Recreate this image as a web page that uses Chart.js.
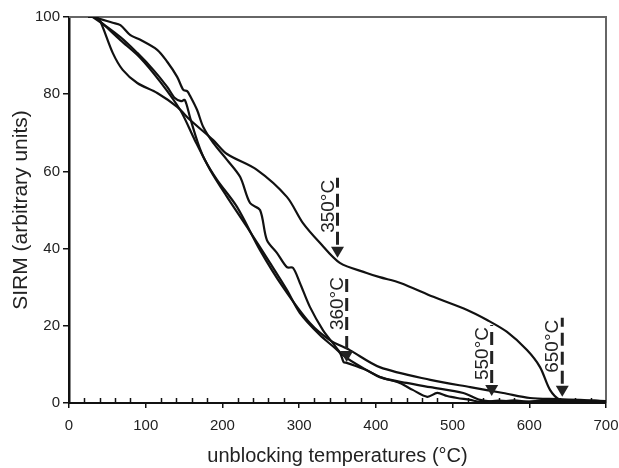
<!DOCTYPE html>
<html>
<head>
<meta charset="utf-8">
<script src="https://cdn.jsdelivr.net/npm/chart.js@4.4.1/dist/chart.umd.min.js"></script>
<style>
    html, body { margin: 0; padding: 0; background: #fff; }
    #wrap { width: 619px; height: 468px; }
</style>
</head>
<body>
<div id="wrap"><canvas id="chart" width="619" height="468"></canvas></div>
<script>
// curve A: the slow one, ends near 650 °C
const tempA = [25, 34, 40, 57, 70, 89, 115, 141, 158, 188, 206, 245, 284, 305, 327, 353, 388, 405, 432, 475, 519, 545, 571, 597, 614, 627, 640, 655, 670, 685, 700];
const sirmA = [100, 100, 99.2, 90.7, 86.3, 82.9, 80.3, 76.7, 73.3, 68.1, 64.5, 60.4, 53.4, 46.6, 41.5, 36.3, 33.7, 32.6, 31.1, 27.5, 24.1, 21.5, 18.4, 13.7, 9.3, 3.4, 0.8, 0.6, 0.5, 0.6, 0.3];

// curve B: has the bump near 150 °C
const tempB = [25, 31, 57, 67, 80, 93, 115, 128, 141, 149, 154, 158, 167, 175, 188, 206, 223, 236, 249, 258, 271, 284, 292, 301, 314, 331, 344, 357, 383, 409, 440, 471, 514, 536, 558, 580, 600, 620, 640, 660, 700];
const sirmB = [100, 100, 98.5, 97.9, 95.3, 94.1, 91.5, 88.4, 84.5, 81.1, 80.8, 79.5, 75.9, 71.5, 67.4, 63, 58.6, 51.8, 50, 42.2, 38.9, 35.2, 35, 31.1, 24.9, 18.9, 15.5, 12.4, 9.1, 6.5, 5.2, 4.1, 2.6, 0.8, 0.3, 0.7, 0.3, 0.8, 0.5, 0.4, 0.3];

// curve C
const tempC = [28, 31, 67, 89, 110, 128, 138, 146, 151, 158, 168, 177, 193, 219, 249, 279, 314, 340, 366, 405, 471, 523, 566, 601, 636, 666, 700];
const sirmC = [100, 100, 94.8, 90.7, 86.3, 81.9, 79, 78.2, 78.5, 73.8, 67.4, 63, 57.8, 50.8, 39.6, 30, 20.7, 16.3, 13.7, 9.3, 6, 4.1, 2.6, 1.3, 1, 0.8, 0.5];

// curve D: lowest one, dip at 360 °C
const tempD = [30, 34, 67, 93, 119, 145, 164, 184, 206, 232, 262, 284, 301, 327, 353, 358, 362, 388, 405, 431, 448, 467, 480, 493, 506, 523, 536, 560, 590, 620, 660, 700];
const sirmD = [100, 100, 94, 89.4, 83.2, 75.9, 68.1, 60.4, 53.4, 45.6, 36.3, 29.3, 23.3, 17.6, 13, 10.6, 10.4, 8.5, 6.7, 5.2, 3.4, 1.6, 2.6, 1.8, 1.3, 0.8, 0.3, 0.6, 0.3, 0.5, 0.3, 0.3];

// arrows with labels
const annoLabels = ['350°C', '360°C', '550°C', '650°C'];
const annoTemp = [350, 362, 551, 643];
const annoSirm = [37.6, 10.6, 1.8, 1.6];

const xTicks = [0, 100, 200, 300, 400, 500, 600, 700];
const yTicks = [0, 20, 40, 60, 80, 100];

const FONT = "'Liberation Sans', Arial, sans-serif";
const TXT = '#222';

const curves = [[tempA, sirmA], [tempB, sirmB], [tempC, sirmC], [tempD, sirmD]];

// label gap above each arrow tip (px)
const labelGap = [25, 32, 16, 24];

const framePlugin = {
    id: 'frame',
    beforeDatasetsDraw(chart) {
        const { ctx, chartArea: a } = chart;
        ctx.save();
        ctx.strokeStyle = '#666';
        ctx.lineWidth = 2;
        ctx.beginPath();
        ctx.moveTo(a.left, a.top);
        ctx.lineTo(a.right, a.top);
        ctx.lineTo(a.right, a.bottom);
        ctx.stroke();

        // minor ticks, pointing inward
        const xs = chart.scales.x;
        ctx.strokeStyle = '#111';
        ctx.lineWidth = 1.5;
        for (let v = 20; v < 700; v += 20) {
            if (v % 100 === 0) continue;
            const px = Math.round(xs.getPixelForValue(v)) + 0.5;
            ctx.beginPath();
            ctx.moveTo(px, a.bottom);
            ctx.lineTo(px, a.bottom - 5);
            ctx.stroke();
        }
        ctx.restore();
    }
};

const arrowPlugin = {
    id: 'arrows',
    afterDatasetsDraw(chart) {
        const { ctx } = chart;
        const xs = chart.scales.x, ys = chart.scales.y;
        ctx.save();
        annoLabels.forEach((label, i) => {
            const px = xs.getPixelForValue(annoTemp[i]);
            const py = ys.getPixelForValue(annoSirm[i]);

            ctx.fillStyle = '#222';
            ctx.beginPath();
            ctx.moveTo(px - 6.5, py - 11);
            ctx.lineTo(px + 6.5, py - 11);
            ctx.lineTo(px, py);
            ctx.closePath();
            ctx.fill();

            const textStart = py - labelGap[i];
            ctx.strokeStyle = '#222';
            ctx.lineWidth = 3;
            ctx.setLineDash([13, 6]);
            ctx.beginPath();
            ctx.moveTo(px, py - 13);
            ctx.lineTo(px, textStart - 55);
            ctx.stroke();
            ctx.setLineDash([]);

            ctx.save();
            ctx.translate(px - 4, textStart);
            ctx.rotate(-Math.PI / 2);
            ctx.font = '19px ' + FONT;
            ctx.fillStyle = TXT;
            ctx.textAlign = 'left';
            ctx.textBaseline = 'alphabetic';
            ctx.fillText(label, 0, 0);
            ctx.restore();
        });
        ctx.restore();
    }
};

new Chart(document.getElementById('chart'), {
    type: 'line',
    data: {
        datasets: curves.map(([t, m]) => ({
            data: t.map((v, i) => ({ x: v, y: m[i] })),
            borderColor: '#111',
            borderWidth: 2.2,
            pointRadius: 0,
            tension: 0.3,
            fill: false
        }))
    },
    options: {
        responsive: false,
        animation: false,
        events: [],
        layout: { padding: { left: 0, top: 17, right: 0, bottom: 0 } },
        plugins: { legend: { display: false }, tooltip: { enabled: false } },
        scales: {
            x: {
                type: 'linear',
                min: 0,
                max: 700,
                afterBuildTicks: s => { s.ticks = xTicks.map(v => ({ value: v })); },
                afterFit: s => { s.height = 65; s.paddingLeft = 0; s.paddingRight = 13; },
                ticks: { font: { size: 15, family: FONT }, color: TXT, padding: 9, maxRotation: 0 },
                grid: { drawOnChartArea: false, drawTicks: true, tickLength: 5, color: '#111', lineWidth: 1.5 },
                border: { color: '#111', width: 2 },
                title: {
                    display: true,
                    text: 'unblocking temperatures (°C)',
                    font: { size: 20, family: FONT },
                    color: TXT,
                    padding: { top: 2, bottom: 0 }
                }
            },
            y: {
                min: 0,
                max: 100,
                afterBuildTicks: s => { s.ticks = yTicks.map(v => ({ value: v })); },
                afterFit: s => { s.width = 69; s.paddingTop = 0; s.paddingBottom = 0; },
                ticks: { font: { size: 15, family: FONT }, color: TXT, padding: 3 },
                grid: { drawOnChartArea: false, drawTicks: true, tickLength: 6, color: '#111', lineWidth: 1.5 },
                border: { color: '#111', width: 2.5 },
                title: {
                    display: true,
                    text: 'SIRM (arbitrary units)',
                    font: { size: 21, family: FONT },
                    color: TXT,
                    padding: { top: 9, bottom: 0 }
                }
            }
        }
    },
    plugins: [framePlugin, arrowPlugin]
});
</script>
</body>
</html>
